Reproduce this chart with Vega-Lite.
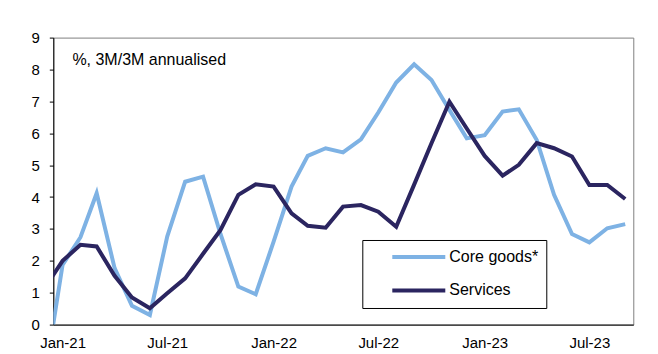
{
  "$schema": "https://vega.github.io/schema/vega-lite/v6.json",
  "width": 580,
  "height": 287,
  "autosize": {"type": "none"},
  "padding": {"left": 53.3, "top": 37.6, "right": 25, "bottom": 29},
  "background": "white",
  "config": {
    "font": "Liberation Sans",
    "view": {"stroke": "#808080", "strokeWidth": 1},
    "axis": {"grid": false, "domainColor": "black", "tickColor": "black", "labelColor": "black", "labelFont": "Liberation Sans", "labelFontSize": 15, "title": null, "labelOverlap": false}
  },
  "layer": [
    {
      "data": {"values": [
        {"date": "2020-12-01", "series": "Core goods*", "value": -1.7},
        {"date": "2021-01-01", "series": "Core goods*", "value": 1.87},
        {"date": "2021-02-01", "series": "Core goods*", "value": 2.74},
        {"date": "2021-03-01", "series": "Core goods*", "value": 4.12},
        {"date": "2021-04-01", "series": "Core goods*", "value": 1.77},
        {"date": "2021-05-01", "series": "Core goods*", "value": 0.59},
        {"date": "2021-06-01", "series": "Core goods*", "value": 0.30},
        {"date": "2021-07-01", "series": "Core goods*", "value": 2.76},
        {"date": "2021-08-01", "series": "Core goods*", "value": 4.48},
        {"date": "2021-09-01", "series": "Core goods*", "value": 4.64},
        {"date": "2021-10-01", "series": "Core goods*", "value": 2.85},
        {"date": "2021-11-01", "series": "Core goods*", "value": 1.19},
        {"date": "2021-12-01", "series": "Core goods*", "value": 0.95},
        {"date": "2022-01-01", "series": "Core goods*", "value": 2.6},
        {"date": "2022-02-01", "series": "Core goods*", "value": 4.33},
        {"date": "2022-03-01", "series": "Core goods*", "value": 5.29},
        {"date": "2022-04-01", "series": "Core goods*", "value": 5.53},
        {"date": "2022-05-01", "series": "Core goods*", "value": 5.40},
        {"date": "2022-06-01", "series": "Core goods*", "value": 5.81},
        {"date": "2022-07-01", "series": "Core goods*", "value": 6.65},
        {"date": "2022-08-01", "series": "Core goods*", "value": 7.59},
        {"date": "2022-09-01", "series": "Core goods*", "value": 8.16},
        {"date": "2022-10-01", "series": "Core goods*", "value": 7.67},
        {"date": "2022-11-01", "series": "Core goods*", "value": 6.73},
        {"date": "2022-12-01", "series": "Core goods*", "value": 5.84},
        {"date": "2023-01-01", "series": "Core goods*", "value": 5.94},
        {"date": "2023-02-01", "series": "Core goods*", "value": 6.68},
        {"date": "2023-03-01", "series": "Core goods*", "value": 6.75},
        {"date": "2023-04-01", "series": "Core goods*", "value": 5.79},
        {"date": "2023-05-01", "series": "Core goods*", "value": 4.07},
        {"date": "2023-06-01", "series": "Core goods*", "value": 2.84},
        {"date": "2023-07-01", "series": "Core goods*", "value": 2.58},
        {"date": "2023-08-01", "series": "Core goods*", "value": 3.02},
        {"date": "2023-09-01", "series": "Core goods*", "value": 3.15},
        {"date": "2020-12-01", "series": "Services", "value": 1.15},
        {"date": "2021-01-01", "series": "Services", "value": 2.0},
        {"date": "2021-02-01", "series": "Services", "value": 2.50},
        {"date": "2021-03-01", "series": "Services", "value": 2.45},
        {"date": "2021-04-01", "series": "Services", "value": 1.53},
        {"date": "2021-05-01", "series": "Services", "value": 0.85},
        {"date": "2021-06-01", "series": "Services", "value": 0.51},
        {"date": "2021-07-01", "series": "Services", "value": 0.98},
        {"date": "2021-08-01", "series": "Services", "value": 1.45},
        {"date": "2021-09-01", "series": "Services", "value": 2.22},
        {"date": "2021-10-01", "series": "Services", "value": 2.96},
        {"date": "2021-11-01", "series": "Services", "value": 4.07},
        {"date": "2021-12-01", "series": "Services", "value": 4.40},
        {"date": "2022-01-01", "series": "Services", "value": 4.33},
        {"date": "2022-02-01", "series": "Services", "value": 3.49},
        {"date": "2022-03-01", "series": "Services", "value": 3.10},
        {"date": "2022-04-01", "series": "Services", "value": 3.04},
        {"date": "2022-05-01", "series": "Services", "value": 3.70},
        {"date": "2022-06-01", "series": "Services", "value": 3.75},
        {"date": "2022-07-01", "series": "Services", "value": 3.54},
        {"date": "2022-08-01", "series": "Services", "value": 3.07},
        {"date": "2022-09-01", "series": "Services", "value": 4.39},
        {"date": "2022-10-01", "series": "Services", "value": 5.69},
        {"date": "2022-11-01", "series": "Services", "value": 6.99},
        {"date": "2022-12-01", "series": "Services", "value": 6.15},
        {"date": "2023-01-01", "series": "Services", "value": 5.29},
        {"date": "2023-02-01", "series": "Services", "value": 4.67},
        {"date": "2023-03-01", "series": "Services", "value": 5.01},
        {"date": "2023-04-01", "series": "Services", "value": 5.69},
        {"date": "2023-05-01", "series": "Services", "value": 5.53},
        {"date": "2023-06-01", "series": "Services", "value": 5.27},
        {"date": "2023-07-01", "series": "Services", "value": 4.38},
        {"date": "2023-08-01", "series": "Services", "value": 4.38},
        {"date": "2023-09-01", "series": "Services", "value": 3.94}
      ]},
      "mark": {"type": "line", "strokeWidth": 4, "clip": true},
      "encoding": {
        "x": {
          "field": "date", "type": "temporal",
          "scale": {"type": "utc", "domain": [{"year": 2020, "month": 12, "date": 16, "utc": true}, {"year": 2023, "month": 9, "date": 15, "utc": true}]},
          "axis": {
            "values": [
              {"year": 2021, "month": 1, "date": 1, "utc": true},
              {"year": 2021, "month": 7, "date": 1, "utc": true},
              {"year": 2022, "month": 1, "date": 1, "utc": true},
              {"year": 2022, "month": 7, "date": 1, "utc": true},
              {"year": 2023, "month": 1, "date": 1, "utc": true},
              {"year": 2023, "month": 7, "date": 1, "utc": true}
            ],
            "format": "%b-%y", "ticks": false, "labelPadding": 11, "labelFlush": false
          }
        },
        "y": {
          "field": "value", "type": "quantitative",
          "scale": {"domain": [0, 9], "nice": false, "zero": false},
          "axis": {"values": [0, 1, 2, 3, 4, 5, 6, 7, 8, 9], "tickCount": 10, "tickSize": 4, "labelPadding": 10, "labelOverlap": false, "labelFlush": false}
        },
        "color": {
          "field": "series", "type": "nominal",
          "scale": {"domain": ["Core goods*", "Services"], "range": ["#7EB2E4", "#2B2560"]},
          "legend": {
            "orient": "none", "legendX": 309, "legendY": 202.4, "title": null,
            "strokeColor": "black", "padding": 8,
            "symbolType": "stroke", "symbolSize": 2809, "symbolStrokeWidth": 4,
            "symbolOffset": 20, "labelOffset": 2, "clipHeight": 18, "rowPadding": 15.4,
            "labelFontSize": 16, "labelFont": "Liberation Sans", "labelColor": "black",
            "labelExpr": "datum.label + '\u00a0\u00a0\u00a0\u00a0\u00a0\u00a0\u00a0\u00a0\u00a0'"
          }
        }
      }
    },
    {
      "data": {"values": [{"note": "%, 3M/3M annualised"}]},
      "mark": {"type": "text", "align": "left", "baseline": "alphabetic", "fontSize": 16, "font": "Liberation Sans", "color": "black"},
      "encoding": {
        "x": {
          "datum": {"year": 2021, "month": 1, "date": 18, "utc": true}, "type": "temporal",
          "axis": {
            "values": [
              {"year": 2021, "month": 1, "date": 1, "utc": true},
              {"year": 2021, "month": 7, "date": 1, "utc": true},
              {"year": 2022, "month": 1, "date": 1, "utc": true},
              {"year": 2022, "month": 7, "date": 1, "utc": true},
              {"year": 2023, "month": 1, "date": 1, "utc": true},
              {"year": 2023, "month": 7, "date": 1, "utc": true}
            ],
            "format": "%b-%y", "ticks": false, "labelPadding": 11, "labelFlush": false
          }
        },
        "y": {
          "datum": 8.13, "type": "quantitative",
          "axis": {"values": [0, 1, 2, 3, 4, 5, 6, 7, 8, 9], "tickCount": 10, "tickSize": 4, "labelPadding": 10, "labelOverlap": false, "labelFlush": false}
        },
        "text": {"field": "note", "type": "nominal"}
      }
    }
  ]
}
